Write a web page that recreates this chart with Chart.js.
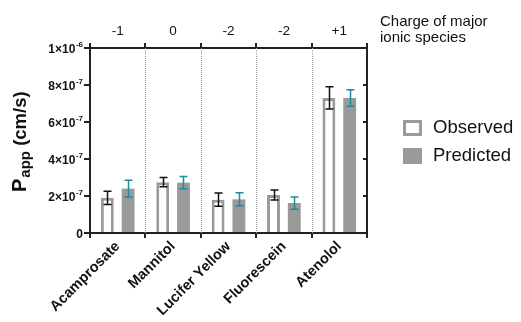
<!DOCTYPE html>
<html><head><meta charset="utf-8">
<script src="https://cdn.jsdelivr.net/npm/chart.js@4"></script>
<style>html,body{margin:0;padding:0;background:#fff}#wrap{width:521px;height:322px}</style>
</head><body><div id="wrap"><canvas id="c" width="521" height="322"></canvas></div>
<script>
const categories = ['Acamprosate','Mannitol','Lucifer Yellow','Fluorescein','Atenolol'];
const charges = ['-1','0','-2','-2','+1'];
const observed = [1.9e-7, 2.75e-7, 1.8e-7, 2.05e-7, 7.3e-7];
const observedErr = [0.36e-7, 0.25e-7, 0.36e-7, 0.27e-7, 0.6e-7];
const predicted = [2.4e-7, 2.72e-7, 1.82e-7, 1.62e-7, 7.3e-7];
const predictedErr = [0.45e-7, 0.33e-7, 0.35e-7, 0.33e-7, 0.45e-7];
const yTickBase = ['0', '2×10', '4×10', '6×10', '8×10', '1×10'];
const yTickExp = ['', '-7', '-7', '-7', '-7', '-6'];
const FONT = '"Liberation Sans", Arial, sans-serif';
const GRAY = '#9a9a9a';

const custom = {
  id:'custom',
  beforeDatasetsDraw(chart){
    const {ctx, chartArea:a, scales:{x}} = chart;
    ctx.save();
    ctx.strokeStyle = '#999'; ctx.lineWidth = 1; ctx.setLineDash([1,1]);
    for (let i=0;i<categories.length-1;i++){
      const px = Math.round((x.getPixelForValue(i)+x.getPixelForValue(i+1))/2)+0.5;
      ctx.beginPath(); ctx.moveTo(px,a.top); ctx.lineTo(px,a.bottom); ctx.stroke();
    }
    ctx.restore();
  },
  afterDatasetsDraw(chart){
    const {ctx, chartArea:a, scales:{y}} = chart;
    ctx.save();
    const errs=[observedErr,predictedErr], cols=['#111','#1a8aa0'];
    [0,1].forEach(d=>{
      const meta = chart.getDatasetMeta(d);
      meta.data.forEach((bar,i)=>{
        const v = chart.data.datasets[d].data[i];
        const t = y.getPixelForValue(v+errs[d][i]), b = y.getPixelForValue(v-errs[d][i]);
        const cx = Math.round(bar.x)+0.5;
        ctx.strokeStyle = cols[d]; ctx.lineWidth = 1.5;
        ctx.beginPath();
        ctx.moveTo(cx,t); ctx.lineTo(cx,b);
        ctx.moveTo(cx-4,t); ctx.lineTo(cx+4,t);
        ctx.moveTo(cx-4,b); ctx.lineTo(cx+4,b);
        ctx.stroke();
      });
    });
    // right axis with inward ticks
    ctx.strokeStyle='#222'; ctx.lineWidth=2;
    ctx.beginPath(); ctx.moveTo(a.right, a.top-1); ctx.lineTo(a.right, a.bottom+1); ctx.stroke();
    y.ticks.forEach(tk=>{
      const py = y.getPixelForValue(tk.value);
      ctx.beginPath(); ctx.moveTo(a.right-4, py); ctx.lineTo(a.right, py); ctx.stroke();
    });
    // y tick labels with superscripts
    ctx.fillStyle='#111'; ctx.textBaseline='alphabetic'; ctx.textAlign='right';
    y.ticks.forEach((tk,i)=>{
      const py = y.getPixelForValue(tk.value);
      let xr = a.left - 7;
      if (yTickExp[i]) {
        ctx.font='bold 8px '+FONT;
        ctx.fillText(yTickExp[i], xr, py-1);
        xr -= ctx.measureText(yTickExp[i]).width + 0.5;
      }
      ctx.font='bold 12px '+FONT;
      ctx.fillText(yTickBase[i], xr, py+4.5);
    });
    // y title
    ctx.fillStyle='#111';
    ctx.translate(26, 192); ctx.rotate(-Math.PI/2);
    ctx.textBaseline='alphabetic'; ctx.textAlign='left';
    ctx.font='bold 20px '+FONT; ctx.fillText('P',0,0);
    let w = ctx.measureText('P').width;
    ctx.font='bold 15px '+FONT; ctx.fillText('app',w+1,4);
    w += 1 + ctx.measureText('app').width;
    ctx.font='bold 18.5px '+FONT; ctx.fillText(' (cm/s)',w,0);
    ctx.setTransform(1,0,0,1,0,0);
    // charge title
    ctx.font='15px '+FONT; ctx.textBaseline='alphabetic'; ctx.textAlign='left';
    ctx.fillText('Charge of major',380,26);
    ctx.fillText('ionic species',380,42);
    // legend
    ctx.strokeStyle=GRAY; ctx.lineWidth=3;
    ctx.fillStyle='#fff'; ctx.fillRect(404.5,121.5,16,13); ctx.strokeRect(404.5,121.5,16,13);
    ctx.fillStyle=GRAY; ctx.fillRect(403,148,19,16);
    ctx.fillStyle='#111'; ctx.font='18.5px '+FONT; ctx.textBaseline='middle';
    ctx.fillText('Observed',433,128);
    ctx.fillText('Predicted',433,156);
    ctx.restore();
  }
};

new Chart(document.getElementById('c'), {
  type:'bar',
  data:{ labels:categories, datasets:[
    {label:'Observed', data:observed, backgroundColor:'#fff', borderColor:GRAY, borderWidth:3, categoryPercentage:0.75, barPercentage:0.62},
    {label:'Predicted', data:predicted, backgroundColor:GRAY, borderColor:GRAY, borderWidth:0, categoryPercentage:0.75, barPercentage:0.62}
  ]},
  options:{
    responsive:false, animation:false, devicePixelRatio:1,
    layout:{padding:{left:0,right:154,top:0,bottom:0}},
    plugins:{legend:{display:false}, tooltip:{enabled:false}},
    scales:{
      x:{ position:'bottom', offset:true,
        grid:{display:true, drawOnChartArea:false, drawTicks:true, tickLength:5, color:'#222', lineWidth:2},
        border:{display:true, color:'#222', width:2},
        ticks:{color:'#111', font:{family:FONT, weight:'bold', size:14.5}, minRotation:45, maxRotation:45, padding:0},
        afterFit(s){ s.height = 89; }
      },
      x2:{ type:'category', position:'top', labels:charges, offset:true,
        grid:{display:true, drawOnChartArea:false, drawTicks:true, tickLength:5, color:'#222', lineWidth:2},
        border:{display:true, color:'#222', width:2},
        ticks:{color:'#111', font:{family:FONT, size:13.5}, padding:4},
        afterFit(s){ s.height = 48; }
      },
      y:{ min:0, max:1e-6,
        afterBuildTicks(s){ s.ticks = [0,2,4,6,8,10].map(k=>({value:k*1e-7})); },
        grid:{display:true, drawOnChartArea:false, drawTicks:true, tickLength:6, color:'#222', lineWidth:2},
        border:{display:true, color:'#222', width:2},
        ticks:{display:true, color:'rgba(0,0,0,0)', font:{family:FONT, size:11}, callback:()=>''},
        afterFit(s){ s.width = 90; }
      }
    }
  },
  plugins:[custom]
});
</script></body></html>
